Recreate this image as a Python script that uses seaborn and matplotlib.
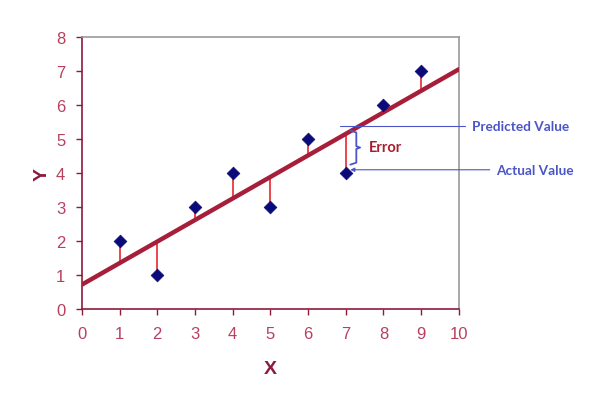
import numpy as np
import pandas as pd
import seaborn as sns
import matplotlib.pyplot as plt

# Data
x_vals = [1, 2, 3, 4, 5, 6, 7, 8, 9]
y_vals = [2, 1, 3, 4, 3, 5, 4, 6, 7]
x_ticks = [0, 1, 2, 3, 4, 5, 6, 7, 8, 9, 10]
y_ticks = [0, 1, 2, 3, 4, 5, 6, 7, 8]

sns.set_style("white")
plt.rcParams['font.family'] = ['Liberation Sans', 'DejaVu Sans']

df = pd.DataFrame({"X": x_vals, "Y": y_vals})
slope, intercept = np.polyfit(df["X"], df["Y"], 1)
fit_df = pd.DataFrame({"X": [x_ticks[0], x_ticks[-1]]})
fit_df["Y"] = intercept + slope * fit_df["X"]
df["pred"] = intercept + slope * df["X"]

fig = plt.figure(figsize=(6.11, 4.06), dpi=100)
ax = fig.add_axes([0.134, 0.236, 0.617, 0.670])

maroon = "#8C1B3C"
tick_col = "#B8405E"
blue = "#4A55C8"

# residuals
ax.vlines(df["X"], df["Y"], df["pred"], color="#E8262E", lw=1.2, zorder=2)
# fitted line
sns.lineplot(data=fit_df, x="X", y="Y", ax=ax, color="#A61E3A", lw=3.2, zorder=3)
# points
sns.scatterplot(data=df, x="X", y="Y", ax=ax, marker="D", s=42, color="#0A0A78",
                edgecolor="#0A0A78", zorder=4)

ax.set_xlim(x_ticks[0], x_ticks[-1])
ax.set_ylim(y_ticks[0], y_ticks[-1])
ax.set_xticks(x_ticks)
ax.set_yticks(y_ticks)
ax.tick_params(axis="both", direction="out", length=4, width=1, color=maroon,
               labelcolor=tick_col, labelsize=12, left=True, bottom=True, pad=8)
for s in ["left", "bottom"]:
    ax.spines[s].set_color(maroon)
    ax.spines[s].set_linewidth(1.2)
for s in ["top", "right"]:
    ax.spines[s].set_color("#9A9A9A")
    ax.spines[s].set_linewidth(1.2)

ax.set_xlabel("X", color=maroon, fontsize=14, fontweight="bold", labelpad=14)
ax.set_ylabel("Y", color=maroon, fontsize=14, fontweight="bold", labelpad=4)

# annotations
ann_x = 7
pred7 = intercept + slope * ann_x
actual7 = df.loc[df["X"] == ann_x, "Y"].iloc[0]
ax.plot([6.85, 10.16], [pred7 + 0.22, pred7 + 0.22], color=blue, lw=0.8, clip_on=False, zorder=5)
ax.annotate("", xy=(7.12, actual7 + 0.1), xytext=(10.82, actual7 + 0.1),
            arrowprops=dict(arrowstyle="-|>", color=blue, lw=0.8, mutation_scale=6,
                            shrinkA=0, shrinkB=0), annotation_clip=False)
ax.text(10.34, pred7 + 0.22, "Predicted Value", color=blue, fontsize=9.8,
        fontweight="bold", family=["Lato"], va="center", ha="left", clip_on=False)
ax.text(11.0, actual7 + 0.1, "Actual Value", color=blue, fontsize=9.8,
        fontweight="bold", family=["Lato"], va="center", ha="left", clip_on=False)

# brace
top, bot = pred7 + 0.1, actual7 + 0.25
mid = (top + bot) / 2
bx = [7.12, 7.28, 7.28, 7.38, 7.28, 7.28, 7.12]
by = [top, top - 0.06, mid + 0.04, mid, mid - 0.04, bot + 0.06, bot]
ax.plot(bx, by, color=blue, lw=1.3, zorder=5, solid_joinstyle="round")

ax.text(7.62, mid + 0.02, "Error", color="#A81E2E", fontsize=10.5,
        fontweight="bold", family=["Lato"], va="center", ha="left")

fig.savefig("out.png", dpi=100)
